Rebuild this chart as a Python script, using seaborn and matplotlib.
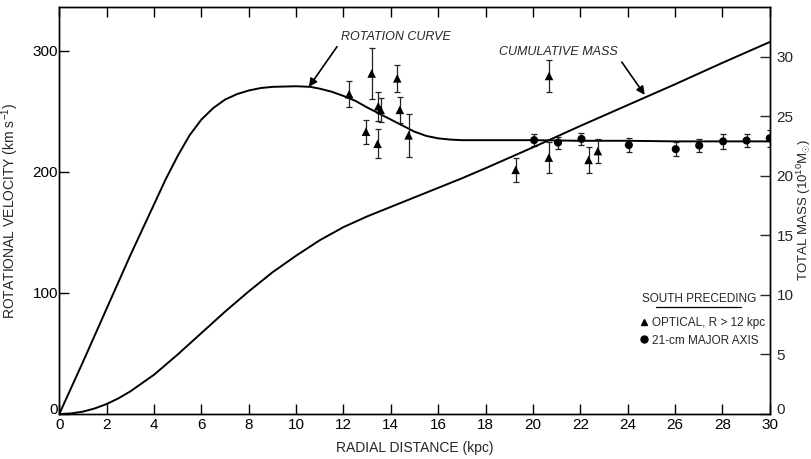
import numpy as np
import pandas as pd
import matplotlib
matplotlib.use("Agg")
import matplotlib.pyplot as plt
import matplotlib.transforms as mtransforms
from matplotlib.lines import Line2D
import seaborn as sns

# ---- data ----
rot_r = [0, 1, 2, 3, 4, 4.5, 5, 5.5, 6, 6.5, 7, 7.5, 8, 8.5, 9, 10, 10.6, 11, 11.5,
         12, 12.5, 13, 13.5, 14, 14.5, 15, 15.5, 16, 16.5, 17, 18, 20, 22, 24, 26,
         28, 30]
rot_v = [0, 43, 87, 131, 173, 194, 213, 230, 243, 252.5, 259.5, 264, 267, 269, 270,
         270.5, 270, 268.5, 266, 262.5, 258.5, 253, 248, 243, 238, 233, 229.5, 227.5,
         226.5, 226, 226, 226, 225.5, 225.5, 225, 225, 225]

mass_r = [0, 0.5, 1, 1.5, 2, 2.5, 3, 4, 5, 6, 7, 8, 9, 10, 11, 12, 13, 14, 15, 16,
          17, 18, 20, 22, 24, 26, 28, 30]
mass_m = [0, 0.05, 0.2, 0.47, 0.84, 1.32, 1.9, 3.3, 5.0, 6.8, 8.6, 10.3, 11.9, 13.3,
          14.6, 15.7, 16.6, 17.4, 18.2, 19.0, 19.8, 20.65, 22.4, 24.2, 25.95, 27.7,
          29.5, 31.25]

opt_r = [12.24, 13.19, 14.27, 13.47, 13.57, 14.38, 12.95, 13.44, 14.75, 20.68, 19.27,
         20.67, 22.35, 22.74]
opt_v = [264, 281, 277, 254, 251, 251, 233, 223, 230, 279, 201.5, 211.6, 209.7, 217]
opt_err = [11, 21, 11, 12, 10, 11, 10, 12, 18, 13, 10, 12.5, 11, 10]

hi_r = [20.05, 21.06, 22.05, 24.05, 26.03, 27.02, 28.03, 29.02, 30.0]
hi_v = [226, 224, 227, 222, 218.6, 221.6, 225, 225.7, 227.6]
hi_err = [5, 5, 5, 5.5, 6, 5, 6, 5, 7]

x_ticks = list(range(0, 31, 2))
v_ticks = [0, 100, 200, 300]
m_ticks = [0, 5, 10, 15, 20, 25, 30]

# ---- style ----
sns.set_theme(style="ticks")
plt.rcParams['font.family'] = ['Liberation Sans', 'DejaVu Sans']
plt.rcParams['mathtext.fontset'] = 'custom'
plt.rcParams['mathtext.rm'] = 'Liberation Sans'
plt.rcParams['mathtext.it'] = 'Liberation Sans:italic'

fig = plt.figure(figsize=(8.12, 4.59), dpi=100)
fig.patch.set_facecolor('white')
ax = fig.add_axes([0.073, 0.098, 0.875, 0.887])
ax2 = ax.twinx()

sns.lineplot(x=rot_r, y=rot_v, ax=ax, color='black', linewidth=1.4, sort=False,
             errorbar=None)
sns.lineplot(x=mass_r, y=mass_m, ax=ax2, color='black', linewidth=1.4, sort=False,
             errorbar=None)

ax.errorbar(opt_r, opt_v, yerr=opt_err, fmt='none', ecolor='#222222',
            elinewidth=0.9, capsize=2.5, capthick=0.9)
ax.errorbar(hi_r, hi_v, yerr=hi_err, fmt='none', ecolor='#222222',
            elinewidth=0.9, capsize=2.5, capthick=0.9)
sns.scatterplot(x=opt_r, y=opt_v, ax=ax, marker='^', s=38, color='black',
                edgecolor='none', zorder=5)
sns.scatterplot(x=hi_r, y=hi_v, ax=ax, marker='o', s=34, color='black',
                edgecolor='none', zorder=5)

ax.set_xlim(0, 30)
ax.set_ylim(0, 336)
ax2.set_ylim(0, 34.2)
ax.set_xticks(x_ticks)
ax.set_xticklabels([str(t) for t in x_ticks])
ax.set_yticks(v_ticks)
ax.set_yticklabels([str(t) for t in v_ticks])
ax2.set_yticks(m_ticks)
ax2.set_yticklabels([str(t) for t in m_ticks])

for a in (ax, ax2):
    for s in a.spines.values():
        s.set_linewidth(1.0)
        s.set_color('black')
        s.set_visible(True)
ax.tick_params(axis='both', direction='in', length=7, width=1.0, labelsize=11,
               top=True, colors='black')
ax.tick_params(axis='y', pad=1)
ax.tick_params(axis='x', pad=3)
ax2.tick_params(axis='y', direction='in', length=7, width=1.0, labelsize=11, pad=5)

# lift the two "0" labels slightly, as in the reference
lift = mtransforms.ScaledTranslation(0, 4 / 72, fig.dpi_scale_trans)
for t in (ax.yaxis.get_major_ticks()[0], ax2.yaxis.get_major_ticks()[0]):
    t.label1.set_transform(t.label1.get_transform() + lift)
    t.label2.set_transform(t.label2.get_transform() + lift)

ax.set_xlabel('RADIAL DISTANCE (kpc)', fontsize=10, labelpad=6)
ax.set_ylabel('ROTATIONAL VELOCITY (km s$^{-1}$)', fontsize=10, labelpad=8)
ax2.set_ylabel('TOTAL MASS (10$^{10}$M$_{\\odot}$)', fontsize=9.5, rotation=90,
               labelpad=1)

# annotations
ax.annotate('ROTATION CURVE', xy=(10.54, 270), xytext=(11.9, 311),
            fontsize=9, style='italic', va='center', ha='left',
            arrowprops=dict(arrowstyle='-|>', color='black', lw=1.2,
                            connectionstyle='angle,angleA=180,angleB=55,rad=0',
                            shrinkA=1, shrinkB=0, mutation_scale=12))
ax.annotate('CUMULATIVE MASS', xy=(24.72, 263.4), xytext=(23.6, 299),
            fontsize=9, style='italic', va='center', ha='right',
            arrowprops=dict(arrowstyle='-|>', color='black', lw=1.2,
                            connectionstyle='angle,angleA=0,angleB=125,rad=0',
                            shrinkA=1, shrinkB=0, mutation_scale=12))

# legend
ax.text(0.9, 0.283, 'SOUTH PRECEDING', transform=ax.transAxes, fontsize=8.5,
        ha='center', va='center')
ax.plot([0.84, 0.96], [0.264, 0.264], transform=ax.transAxes, color='black',
        lw=0.9)
handles = [Line2D([], [], marker='^', color='black', ls='none', markersize=5),
           Line2D([], [], marker='o', color='black', ls='none', markersize=5)]
ax.legend(handles, ['OPTICAL, R > 12 kpc', '21-cm MAJOR AXIS'], loc='upper left',
          bbox_to_anchor=(0.805, 0.258), frameon=False, fontsize=8.5,
          handlelength=0.8, handletextpad=0.3, labelspacing=0.45, borderpad=0.2)

fig.savefig('out.png', dpi=100, facecolor='white')
